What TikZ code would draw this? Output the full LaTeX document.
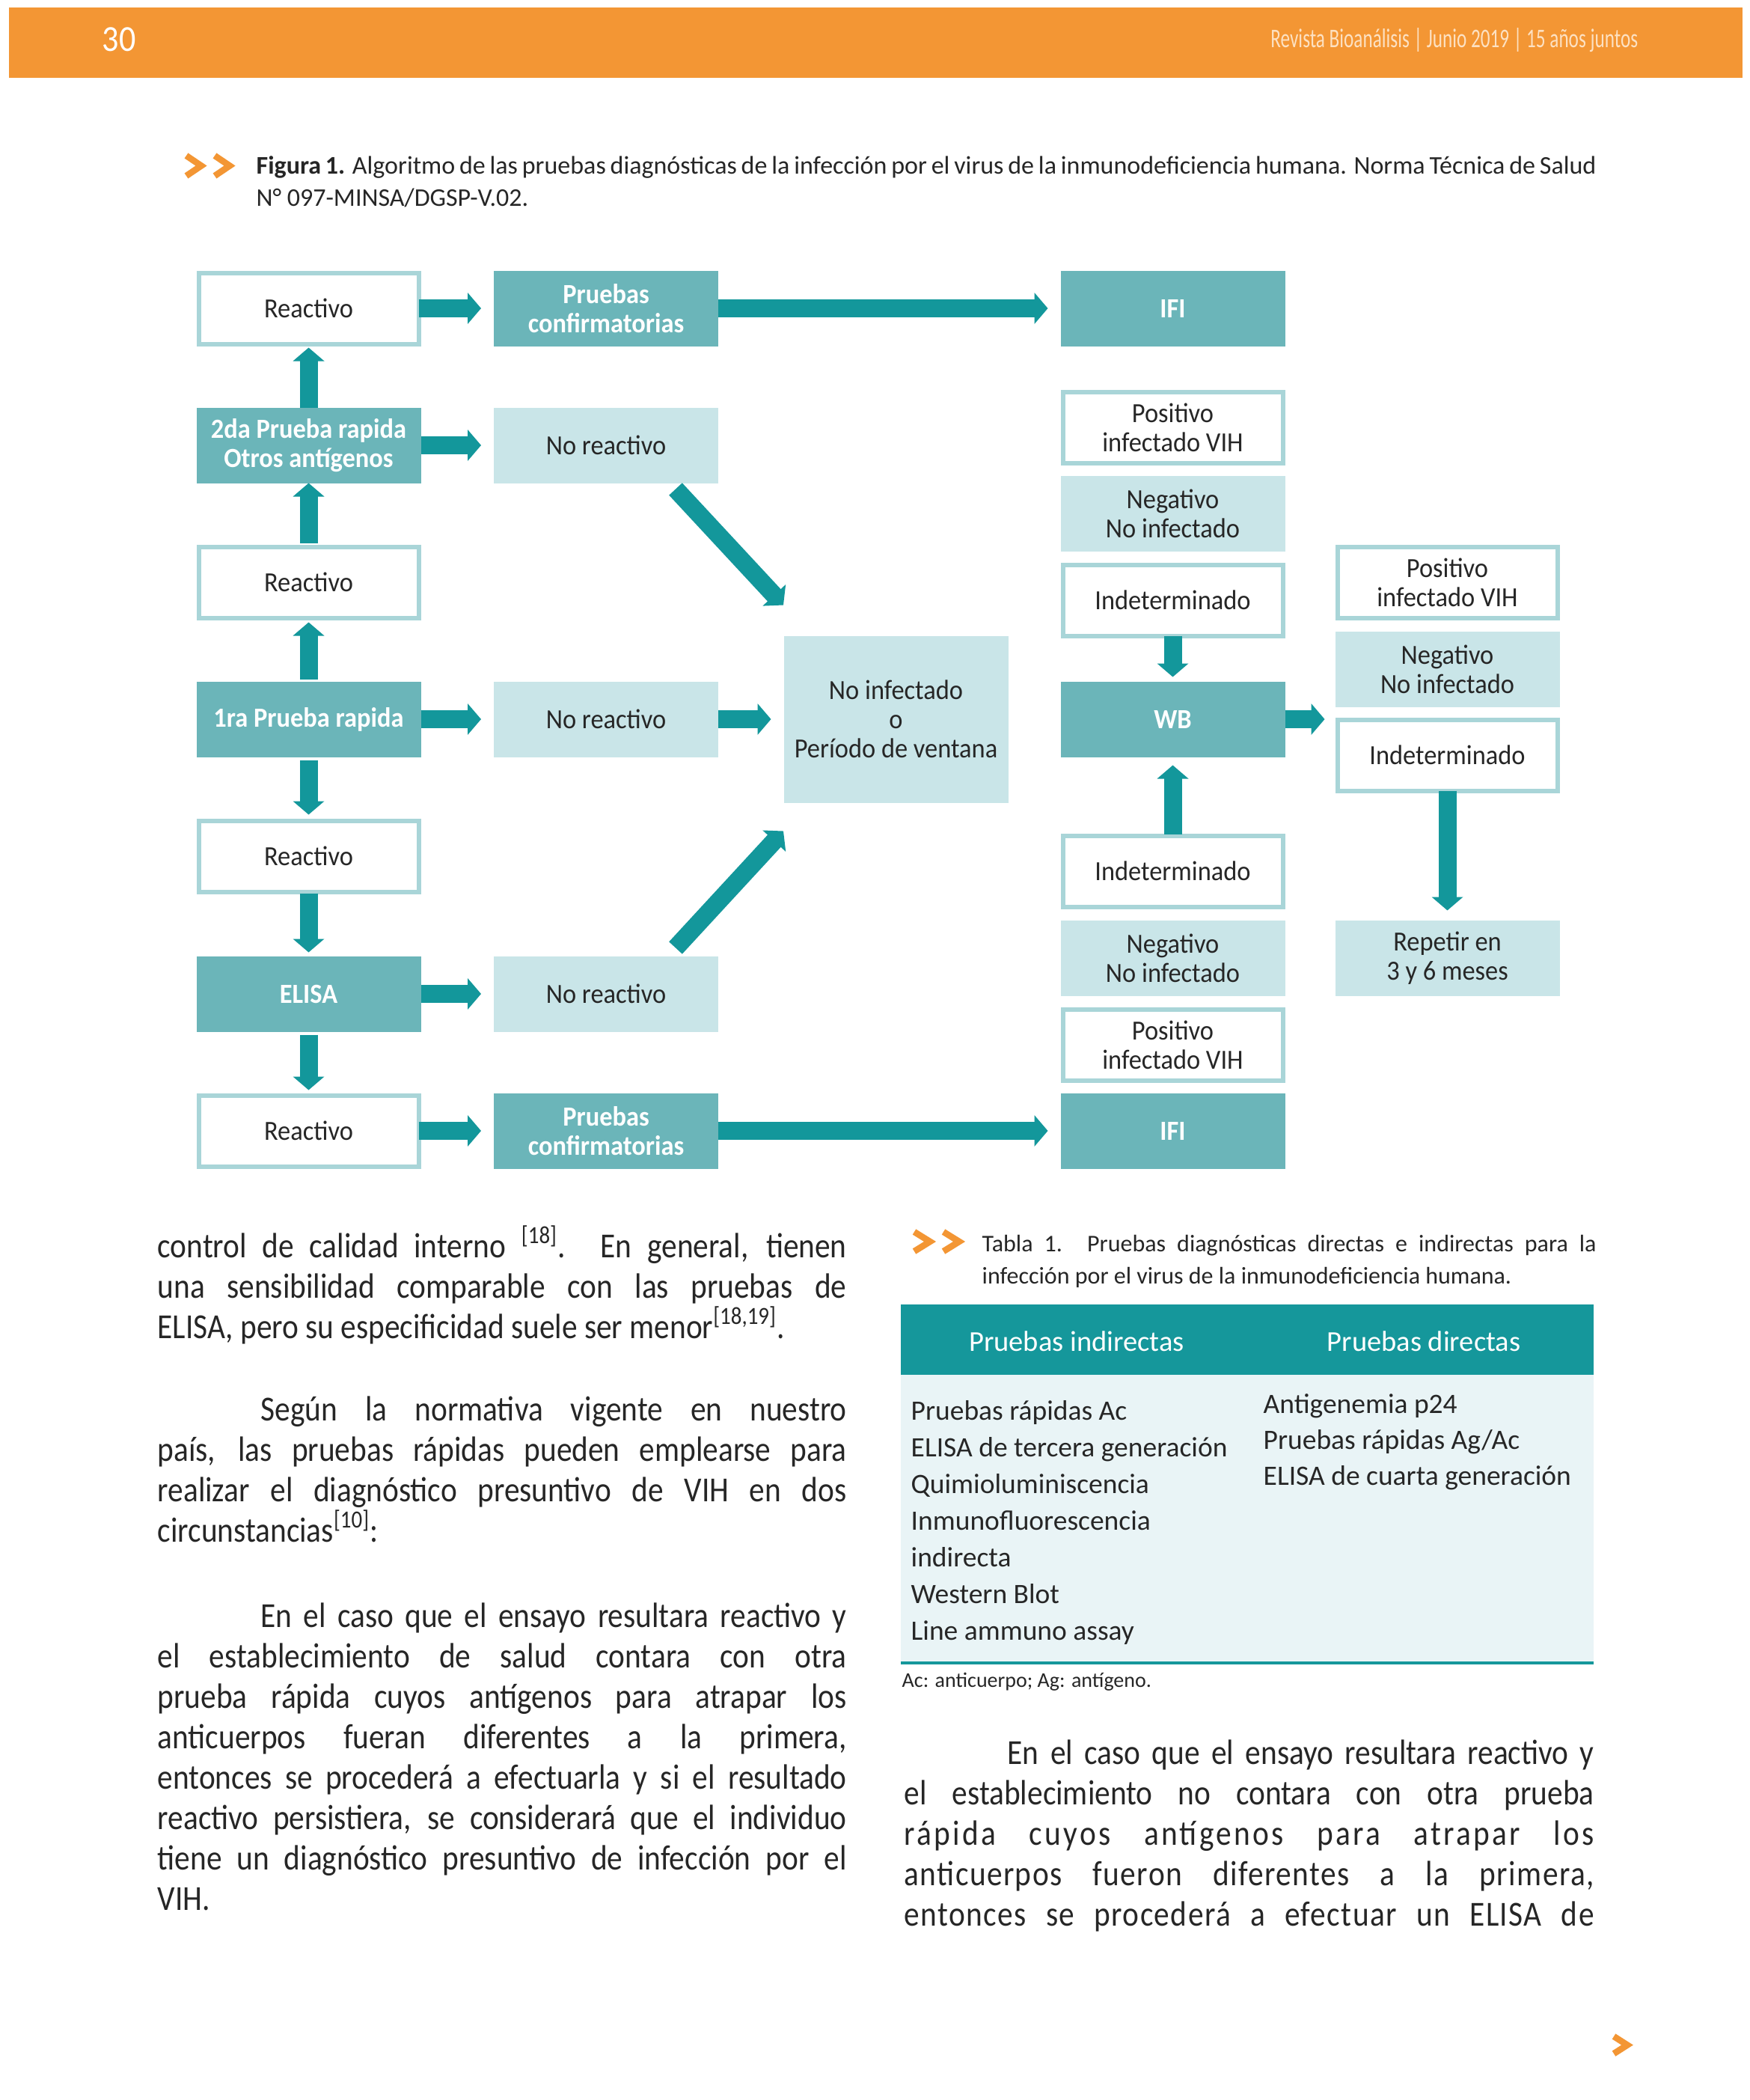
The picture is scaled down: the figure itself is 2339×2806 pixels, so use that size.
\documentclass[tikz,border=0pt]{standalone}
\usepackage{fontspec}
\setmainfont{Carlito}
\newfontfamily\diagfont[FakeStretch=0.93]{Carlito}
\newfontfamily\bodyfont[FakeStretch=0.88]{Carlito}
\newfontfamily\headfont[FakeStretch=0.7]{Carlito}
\newfontfamily\numfont[FakeStretch=0.9]{Carlito}
\usetikzlibrary{arrows.meta,positioning,calc}
\definecolor{barorange}{HTML}{F39634}
\definecolor{headtext}{HTML}{FDE1C2}
\definecolor{tealdark}{HTML}{6BB5B9}
\definecolor{teallight}{HTML}{C9E5E8}
\definecolor{tealborder}{HTML}{A9D5D8}
\definecolor{tealarrow}{HTML}{13979B}
\definecolor{tablehead}{HTML}{15979B}
\definecolor{tablebody}{HTML}{E9F4F6}
\definecolor{ink}{HTML}{262626}
\tolerance=9999
\hbadness=10000
\emergencystretch=0pt

\begin{document}
\begin{tikzpicture}[
  x=0.1mm, y=-0.1mm,
  box/.style={rectangle,inner sep=0pt,outer sep=0pt,minimum width=30mm,
              minimum height=10.1mm,align=center,text=ink,
              font=\diagfont\fontsize{3.7mm}{3.9mm}\selectfont},
  dark/.style={box,fill=tealdark,text=white,
               font=\diagfont\bfseries\fontsize{3.7mm}{3.9mm}\selectfont},
  light/.style={box,fill=teallight},
  hollow/.style={box,fill=white,draw=tealborder,line width=0.6mm,
                 minimum width=29.4mm,minimum height=9.5mm},
  flow/.style={draw=tealarrow,line width=2.4mm,-{Triangle[length=1.8mm,width=4.1mm]}},
  flowh/.style={flow,shorten >=1.7mm},
  chev/.style={draw=barorange,line width=0.85mm,line join=miter},
  para/.style={anchor=base west,inner sep=0pt,text=ink,align=justify,
               font=\bodyfont\fontsize{4.7mm}{5.4mm}\selectfont},
  titem/.style={anchor=base west,inner sep=0pt,text=ink,
                font=\fontsize{3.75mm}{4.9mm}\selectfont}
]
  \useasboundingbox (0,0) rectangle (2339,2806);
  \fill[white] (0,0) rectangle (2339,2806);

  % Running head
  \fill[barorange] (12,10) rectangle (2329,104);
  \node[anchor=base west,inner sep=0pt,text=white,
        font=\numfont\fontsize{4.9mm}{5mm}\selectfont] (pagenum) at (136,68) {30};
  \node[anchor=base east,inner sep=0pt,text=headtext,
        font=\headfont\fontsize{3.6mm}{4mm}\selectfont] (runhead) at (2190,63)
        {Revista Bioanálisis | Junio 2019 | 15 años juntos};

  % Figure caption
  \draw[chev] (249,208) -- (269,221.5) -- (249,235);
  \draw[chev] (287,208) -- (307,221.5) -- (287,235);
  \node[anchor=base west,inner sep=0pt,text=ink,text width=179.1mm,align=justify,
        font=\fontsize{3.4mm}{4.3mm}\selectfont] (figcap) at (342,232)
        {\textbf{Figura 1.} Algoritmo de las pruebas diagnósticas de la infección por el virus de la inmunodeficiencia humana. Norma Técnica de Salud\linebreak
         N° 097-MINSA/DGSP-V.02.};

  % Algorithm boxes
  \node[hollow] (rea1)  at (412.5,412)  {Reactivo};
  \node[dark]   (conf1) at (810,412)    {Pruebas\\confirmatorias};
  \node[dark]   (ifi1)  at (1567.5,412) {IFI};
  \node[dark]   (sec)   at (412.5,595)  {2da Prueba rapida\\Otros antígenos};
  \node[light]  (nor2)  at (810,595)    {No reactivo};
  \node[hollow] (posA)  at (1567.5,571) {Positivo\\infectado VIH};
  \node[light]  (negA)  at (1567.5,686) {Negativo\\No infectado};
  \node[hollow] (indA)  at (1567.5,802) {Indeterminado};
  \node[hollow] (rea3)  at (412.5,778)  {Reactivo};
  \node[dark]   (fst)   at (412.5,961)  {1ra Prueba rapida};
  \node[light]  (nor4)  at (810,961)    {No reactivo};
  \node[light,minimum height=22.3mm] (noinf) at (1197.5,961)
        {No infectado\\o\\Período de ventana};
  \node[dark]   (wb)    at (1567.5,961) {WB};
  \node[hollow] (posC)  at (1934.5,778) {Positivo\\infectado VIH};
  \node[light]  (negC)  at (1934.5,894) {Negativo\\No infectado};
  \node[hollow] (indC)  at (1934.5,1009) {Indeterminado};
  \node[light]  (rep)   at (1934.5,1280) {Repetir en\\3 y 6 meses};
  \node[hollow] (rea5)  at (412.5,1144) {Reactivo};
  \node[hollow] (indB)  at (1567.5,1164) {Indeterminado};
  \node[dark]   (elisa) at (412.5,1328) {ELISA};
  \node[light]  (nor6)  at (810,1328)   {No reactivo};
  \node[light]  (negB)  at (1567.5,1280) {Negativo\\No infectado};
  \node[hollow] (posB)  at (1567.5,1396) {Positivo\\infectado VIH};
  \node[hollow] (rea7)  at (412.5,1511) {Reactivo};
  \node[dark]   (conf7) at (810,1511)   {Pruebas\\confirmatorias};
  \node[dark]   (ifi7)  at (1567.5,1511) {IFI};

  % Block arrows
  \draw[flowh] (rea1) -- (conf1);
  \draw[flowh] (conf1) -- (ifi1);
  \draw[flowh] (sec) -- (nor2);
  \draw[flowh] (fst) -- (nor4);
  \draw[flowh] (nor4) -- (noinf);
  \draw[flowh] (elisa) -- (nor6);
  \draw[flowh] (rea7) -- (conf7);
  \draw[flowh] (conf7) -- (ifi7);
  \draw[flow,shorten >=1.4mm] (wb.east) -- (wb.east -| negC.west);
  \draw[flow,shorten >=0.5mm] (sec.north) -- (rea1.south);
  \draw[flow,shorten <=0.5mm] (rea3.north) -- (sec.south);
  \draw[flow,shorten <=0.3mm,shorten >=0.6mm] (fst.north) -- (rea3.south);
  \draw[flow,shorten <=0.4mm,shorten >=0.8mm] (fst.south) -- (rea5.north);
  \draw[flow,shorten <=0.2mm,shorten >=0.5mm] (rea5.south) -- (elisa.north);
  \draw[flow,shorten <=0.4mm,shorten >=0.7mm] (elisa.south) -- (rea7.north);
  \draw[flow,shorten >=0.6mm] (indA.south) -- (wb.north);
  \draw[flow,shorten <=0.2mm,shorten >=1.1mm] (indB.north) -- (wb.south);
  \draw[flow,shorten >=1.3mm] (indC.south) -- (rep.north);
  \coordinate (dnTail) at ([xshift=9.3mm,yshift=-0.8mm]nor2.south);
  \coordinate (dnTip)  at ([xshift=-15.05mm,yshift=4.1mm]noinf.north);
  \coordinate (upTail) at ([xshift=9.3mm,yshift=1.1mm]nor6.north);
  \coordinate (upTip)  at ([xshift=-15.05mm,yshift=-3.8mm]noinf.south);
  \draw[flow] (dnTail) -- (dnTip);
  \draw[flow] (upTail) -- (upTip);

  % Left column text
  \node[para,text width=92.1mm] (parA) at (210,1680)
    {control de calidad interno \textsuperscript{[18]}. En general, tienen\linebreak
     una sensibilidad comparable con las pruebas de\linebreak
     ELISA, pero su especificidad suele ser menor\textsuperscript{[18,19]}.};
  \node[para,text width=92.1mm] (parB) at (210,1898)
    {\hspace*{13.8mm}Según la normativa vigente en nuestro\linebreak
     país, las pruebas rápidas pueden emplearse para\linebreak
     realizar el diagnóstico presuntivo de VIH en dos\linebreak
     circunstancias\textsuperscript{[10]}:};
  \node[para,text width=92.1mm] (parC) at (210,2174)
    {\hspace*{13.8mm}En el caso que el ensayo resultara reactivo y\linebreak
     el establecimiento de salud contara con otra\linebreak
     prueba rápida cuyos antígenos para atrapar los\linebreak
     anticuerpos fueran diferentes a la primera,\linebreak
     entonces se procederá a efectuarla y si el resultado\linebreak
     reactivo persistiera, se considerará que el individuo\linebreak
     tiene un diagnóstico presuntivo de infección por el\linebreak
     VIH.};

  % Table 1
  \draw[chev] (1222,1646) -- (1243,1659) -- (1222,1672);
  \draw[chev] (1261,1646) -- (1282,1659) -- (1261,1672);
  \node[anchor=base west,inner sep=0pt,text=ink,text width=82.1mm,align=justify,
        font=\fontsize{3.2mm}{4.3mm}\selectfont] (tabcap) at (1312,1672)
        {Tabla 1. Pruebas diagnósticas directas e indirectas para la\linebreak
         infección por el virus de la inmunodeficiencia humana.};
  \fill[tablehead] (1204,1743) rectangle (2130,1837);
  \fill[tablebody] (1204,1837) rectangle (2130,2220);
  \draw[tablehead,line width=0.4mm] (1204,2222) -- (2130,2222);
  \node[anchor=base,inner sep=0pt,text=white,
        font=\fontsize{3.85mm}{4mm}\selectfont] (hInd) at (1439,1805) {Pruebas indirectas};
  \node[anchor=base,inner sep=0pt,text=white,
        font=\fontsize{3.85mm}{4mm}\selectfont] (hDir) at (1903,1805) {Pruebas directas};
  \node[titem] (ind1) at (1217,1897) {Pruebas rápidas Ac};
  \node[titem] (ind2) at (1217,1946) {ELISA de tercera generación};
  \node[titem] (ind3) at (1217,1995) {Quimioluminiscencia};
  \node[titem] (ind4) at (1217,2044) {Inmunofluorescencia};
  \node[titem] (ind5) at (1217,2093) {indirecta};
  \node[titem] (ind6) at (1217,2142) {Western Blot};
  \node[titem] (ind7) at (1217,2191) {Line ammuno assay};
  \node[titem] (dir1) at (1688,1888) {Antigenemia p24};
  \node[titem] (dir2) at (1688,1936) {Pruebas rápidas Ag/Ac};
  \node[titem] (dir3) at (1688,1984) {ELISA de cuarta generación};
  \node[anchor=base west,inner sep=0pt,text=ink,
        font=\fontsize{2.8mm}{3mm}\selectfont] (tabnote) at (1205,2254)
        {Ac: anticuerpo; Ag: antígeno.};

  % Right column text
  \node[para,text width=92.2mm] (parD) at (1208,2357)
    {\hspace*{13.8mm}En el caso que el ensayo resultara reactivo y\linebreak
     el establecimiento no contara con otra prueba\linebreak
     {\addfontfeature{LetterSpace=7}rápida cuyos antígenos para atrapar los}\linebreak
     {\addfontfeature{LetterSpace=3}anticuerpos fueron diferentes a la primera,}\linebreak
     {\addfontfeature{LetterSpace=3}entonces se procederá a efectuar un ELISA de}\linebreak};

  % Page turn mark
  \draw[chev] (2157,2721) -- (2175,2732.5) -- (2157,2744);
\end{tikzpicture}
\end{document}
